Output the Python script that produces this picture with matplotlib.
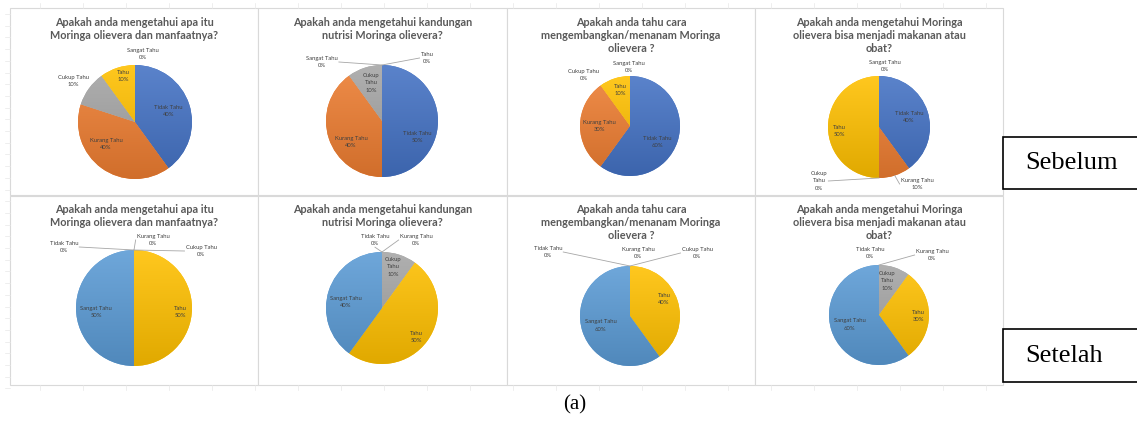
import matplotlib.pyplot as plt
import numpy as np
from matplotlib.colors import LinearSegmentedColormap, to_rgb
from matplotlib.patches import Rectangle

W, H = 1137, 422

categories = ["Tidak Tahu", "Kurang Tahu", "Cukup Tahu", "Tahu", "Sangat Tahu"]
colors = ["#4472C4", "#ED7D31", "#A5A5A5", "#FFC000", "#5B9BD5"]

titles = [
    "Apakah anda mengetahui apa itu\nMoringa olievera dan manfaatnya?",
    "Apakah anda mengetahui kandungan\nnutrisi Moringa olievera?",
    "Apakah anda tahu cara\nmengembangkan/menanam Moringa\nolievera ?",
    "Apakah anda mengetahui Moringa\nolievera bisa menjadi makanan atau\nobat?",
]

# percentages per question, same category order as above
sebelum = [
    [40, 40, 10, 10, 0],
    [50, 40, 10, 0, 0],
    [60, 30, 0, 10, 0],
    [40, 10, 0, 50, 0],
]
setelah = [
    [0, 0, 0, 50, 50],
    [0, 0, 10, 50, 40],
    [0, 0, 0, 40, 60],
    [0, 0, 10, 30, 60],
]
row_names = ["Sebelum", "Setelah"]

# layout in pixels (image coordinates, y down)
panel_x = [10, 258, 507, 755, 1003]
panel_y = [(8, 195), (196, 385)]
pie_geom = [
    (135, 122, 57), (382, 121, 56), (630, 126, 50), (879, 127, 51),
    (134, 308, 58), (382, 308, 56), (630, 316, 50), (879, 315, 50),
]

# data label offsets from pie centre (px, y up) where Excel moved them
label_pos = {
    0: {"Cukup Tahu": (-62, 41), "Tahu": (-12, 46), "Sangat Tahu": (8, 68), "Kurang Tahu": (-29, -22)},
    1: {"Tidak Tahu": (35, -16), "Kurang Tahu": (-31, -21), "Cukup Tahu": (-11, 38),
        "Sangat Tahu": (-60, 59), "Tahu": (45, 63)},
    2: {"Tidak Tahu": (27, -16), "Tahu": (-10, 36), "Cukup Tahu": (-46, 51), "Sangat Tahu": (-1, 59)},
    3: {"Tahu": (-40, -4), "Kurang Tahu": (38, -57), "Cukup Tahu": (-60, -54), "Sangat Tahu": (6, 61)},
    4: {"Tahu": (46, -4), "Sangat Tahu": (-38, -4), "Tidak Tahu": (-70, 61),
        "Kurang Tahu": (19, 68), "Cukup Tahu": (67, 57)},
    5: {"Cukup Tahu": (11, 41), "Tahu": (34, -29), "Sangat Tahu": (-36, 6),
        "Tidak Tahu": (-7, 68), "Kurang Tahu": (34, 68)},
    6: {"Tahu": (34, 17), "Tidak Tahu": (-82, 64), "Kurang Tahu": (8, 63), "Cukup Tahu": (67, 63)},
    7: {"Cukup Tahu": (8, 34), "Tahu": (39, -1), "Tidak Tahu": (-9, 62), "Kurang Tahu": (53, 60)},
}
leaders = {
    1: {"Sangat Tahu", "Tahu"},
    3: {"Kurang Tahu", "Cukup Tahu"},
    4: {"Tidak Tahu", "Kurang Tahu", "Cukup Tahu"},
    5: {"Tidak Tahu", "Kurang Tahu"},
    6: {"Tidak Tahu", "Cukup Tahu"},
    7: {"Kurang Tahu"},
}
wrapped = {1: {"Cukup Tahu"}, 3: {"Cukup Tahu"}, 5: {"Cukup Tahu"}, 7: {"Cukup Tahu"}}

SANS = ["Lato", "DejaVu Sans"]
SERIF = ["Liberation Serif", "DejaVu Serif"]


def Y(y):
    return H - y


def shade(c, f):
    r = np.array(to_rgb(c))
    if f > 0:
        return tuple(r + (1 - r) * f)
    return tuple(r * (1 + f))


fig = plt.figure(figsize=(W / 100, H / 100), dpi=100)
ax = fig.add_axes([0, 0, 1, 1])

# faint spreadsheet cell borders
grid_c = "#E8E8E8"
for y in np.arange(14, 390, 11.7):
    ax.plot([5, 10], [Y(y), Y(y)], color=grid_c, lw=0.5)
for x in np.arange(40, 1000, 43):
    ax.plot([x, x], [Y(3), Y(8)], color=grid_c, lw=0.5)
    ax.plot([x, x], [Y(385), Y(390)], color=grid_c, lw=0.5)

for r, (y0, y1) in enumerate(panel_y):
    for c in range(4):
        ax.add_patch(Rectangle((panel_x[c], Y(y1)), panel_x[c + 1] - panel_x[c], y1 - y0,
                               facecolor="white", edgecolor="#D9D9D9", lw=0.8, zorder=0.5))

all_values = sebelum + setelah
texts = []
for k, values in enumerate(all_values):
    cx, cy, rad = pie_geom[k]
    cy = Y(cy)
    wedges, _ = ax.pie(values, colors=colors, startangle=90, counterclock=False,
                       center=(cx, cy), radius=rad, frame=True,
                       wedgeprops=dict(linewidth=0))
    # Excel-style vertical gradient on each slice
    grad = np.linspace(0, 1, 256).reshape(-1, 1)
    for w, col, v in zip(wedges, colors, values):
        if v == 0:
            continue
        cm = LinearSegmentedColormap.from_list("g", [shade(col, -0.12), shade(col, 0.12)])
        im = ax.imshow(grad, extent=(cx - rad, cx + rad, cy - rad, cy + rad), origin="lower",
                       cmap=cm, aspect="auto", interpolation="bilinear", zorder=2)
        im.set_clip_path(w)

    total = float(sum(values))
    cum = 0.0
    for name, v in zip(categories, values):
        theta = np.deg2rad(360 * (cum + v / 2) / total)
        cum += v
        if name in label_pos[k]:
            dx, dy = label_pos[k][name]
        else:
            d = 0.62 * rad
            dx, dy = d * np.sin(theta), d * np.cos(theta)
        shown = name.replace(" ", "\n") if name in wrapped.get(k, set()) else name
        t = ax.text(cx + dx, cy + dy, f"{shown}\n{v}%", ha="center", va="center",
                    fontsize=4.2, color="#404040", family=SANS, linespacing=1.6, zorder=5)
        if name in leaders.get(k, set()):
            ax_pt = (cx + rad * np.sin(theta), cy + rad * np.cos(theta))
            texts.append((t, ax_pt))

    title_top = 17 if k < 4 else 204
    ax.text((panel_x[k % 4] + panel_x[k % 4 + 1]) / 2, Y(title_top), titles[k % 4],
            ha="center", va="top", fontsize=7.8, fontweight="bold", color="#595959",
            family=SANS, linespacing=1.22, zorder=5)

ax.set_xlim(0, W)
ax.set_ylim(0, H)
ax.set_aspect("auto")
ax.axis("off")

# leader lines from the slice edge to the nearest side of its label
fig.canvas.draw()
renderer = fig.canvas.get_renderer()
for t, (px, py) in texts:
    bb = t.get_window_extent(renderer)
    tx = (bb.x0 + bb.x1) / 2
    if tx < px - 10:
        ex, ey = bb.x1 + 1, (bb.y0 + bb.y1) / 2
    elif tx > px + 10:
        ex, ey = bb.x0 - 1, (bb.y0 + bb.y1) / 2
    else:
        ex, ey = tx, bb.y0 - 1
    ax.plot([px, ex], [py, ey], color="#A6A6A6", lw=0.6, zorder=4)

# row captions on the right
for name, (y0, y1) in zip(row_names, [(137, 189), (329, 382)]):
    ax.add_patch(Rectangle((1003, Y(y1)), 150, y1 - y0, facecolor="white",
                           edgecolor="black", lw=1.2, zorder=6, clip_on=False))
    ax.text(1025, Y((y0 + y1) / 2), name, ha="left", va="center", fontsize=19,
            family=SERIF, color="black", zorder=7)

ax.text(575, Y(405), "(a)", ha="center", va="center", fontsize=15, family=SERIF, color="black")

ax.set_xlim(0, W)
ax.set_ylim(0, H)

fig.savefig("out.png", dpi=100)
